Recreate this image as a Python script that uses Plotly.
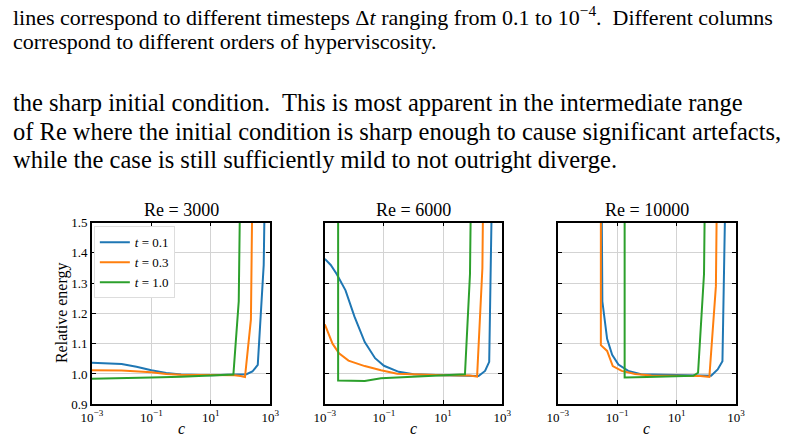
import plotly.graph_objects as go

# ---------------- data (log10 c, relative energy) ----------------
panels = ["Re = 3000", "Re = 6000", "Re = 10000"]
labels = ["0.1", "0.3", "1.0"]
colors = ["#1f77b4", "#ff7f0e", "#2ca02c"]

re3000_t01_logc = [-3, -2.5, -2, -1.5, -1, -0.5, 0, 1, 2, 2.2, 2.4, 2.58, 2.78, 2.95]
re3000_t01_E = [1.037, 1.036, 1.033, 1.024, 1.012, 1.003, 0.998, 0.996, 0.997, 0.999, 1.008, 1.03, 1.36, 2.5]
re3000_t03_logc = [-3, -2, -1, -0.5, 0, 1, 1.8, 2.0, 2.15, 2.35, 2.5]
re3000_t03_E = [1.012, 1.011, 1.006, 1.0, 0.997, 0.996, 0.996, 0.993, 0.990, 1.18, 2.5]
re3000_t10_logc = [-3, -2, -1, 0, 1, 1.76, 1.94, 2.1]
re3000_t10_E = [0.984, 0.985, 0.988, 0.991, 0.994, 0.998, 1.24, 2.5]

re6000_t01_logc = [-3, -2.8, -2.6, -2.3, -2, -1.65, -1.3, -1, -0.5, 0, 1, 2, 2.2, 2.42, 2.56, 2.8]
re6000_t01_E = [1.38, 1.36, 1.33, 1.276, 1.19, 1.105, 1.052, 1.027, 1.007, 0.999, 0.996, 0.995, 0.993, 1.01, 1.04, 2.5]
re6000_t03_logc = [-3, -2.74, -2.52, -2.2, -1.65, -1.1, -0.55, 0.2, 1, 1.9, 2.15, 2.33, 2.45]
re6000_t03_E = [1.164, 1.10, 1.068, 1.044, 1.026, 1.012, 1.001, 0.998, 0.996, 0.995, 0.991, 1.35, 2.5]
re6000_t10_logc = [-2.55, -2.55, -1.65, -1.1, 0.5, 1.5, 1.74, 1.91, 2.05]
re6000_t10_E = [3.0, 0.978, 0.977, 0.986, 0.993, 0.997, 0.999, 1.33, 2.5]

re10000_t01_logc = [-1.62, -1.5, -1.34, -1.17, -0.96, -0.63, -0.2, 1, 2.0, 2.16, 2.38, 2.54, 2.8]
re10000_t01_E = [3.0, 1.24, 1.116, 1.063, 1.031, 1.01, 0.999, 0.996, 0.994, 0.994, 1.015, 1.042, 2.5]
re10000_t03_logc = [-1.55, -1.55, -1.34, -1.15, -0.85, -0.4, 0.15, 1, 1.8, 2.1, 2.32, 2.45]
re10000_t03_E = [3.0, 1.095, 1.076, 1.026, 1.01, 1.0, 0.995, 0.994, 0.993, 0.990, 1.29, 2.5]
re10000_t10_logc = [-0.75, -0.75, 0, 1, 1.56, 1.72, 1.92, 2.05]
re10000_t10_E = [3.0, 0.988, 0.99, 0.992, 0.994, 1.004, 1.33, 2.5]

series = [
    [(re3000_t01_logc, re3000_t01_E), (re3000_t03_logc, re3000_t03_E), (re3000_t10_logc, re3000_t10_E)],
    [(re6000_t01_logc, re6000_t01_E), (re6000_t03_logc, re6000_t03_E), (re6000_t10_logc, re6000_t10_E)],
    [(re10000_t01_logc, re10000_t01_E), (re10000_t03_logc, re10000_t03_E), (re10000_t10_logc, re10000_t10_E)],
]

x_tickvals = [1e-3, 1e-1, 1e1, 1e3]
x_ticktext = ["10<sup>−3</sup>", "10<sup>−1</sup>", "10<sup>1</sup>", "10<sup>3</sup>"]
y_tickvals = [0.9, 1.0, 1.1, 1.2, 1.3, 1.4, 1.5]

caption_lines = [
    "lines correspond to different timesteps Δ<i>t</i> ranging from 0.1 to 10<sup>−4</sup>.  Different columns",
    "correspond to different orders of hyperviscosity.",
]
body_lines = [
    "the sharp initial condition.  This is most apparent in the intermediate range",
    "of Re where the initial condition is sharp enough to cause significant artefacts,",
    "while the case is still sufficiently mild to not outright diverge.",
]

# ---------------- layout ----------------
W, H = 788, 448
SERIF = "Liberation Serif"
px_x = [(83, 266), (322, 504), (561, 744)]
py_top, py_bot = 223, 411

fig = go.Figure()

for i in range(3):
    xa = "x" if i == 0 else f"x{i+1}"
    ya = "y" if i == 0 else f"y{i+1}"
    for j in range(3):
        lc, e = series[i][j]
        fig.add_trace(go.Scatter(
            x=[10 ** v for v in lc], y=e, mode="lines",
            line=dict(color=colors[j], width=2),
            name="<i>t</i> = " + labels[j],
            showlegend=(i == 0), xaxis=xa, yaxis=ya,
        ))

axis_common = dict(
    showline=True, linecolor="black", linewidth=1.5, mirror="allticks",
    ticks="inside", ticklen=4, tickcolor="black",
    showgrid=True, gridcolor="#d3d3d3", gridwidth=1, zeroline=False,
    tickfont=dict(family=SERIF, size=13, color="black"),
)

layout = dict(
    width=W, height=H, margin=dict(l=0, r=0, t=0, b=0),
    paper_bgcolor="white", plot_bgcolor="white",
    showlegend=True,
    legend=dict(
        x=85 / W, y=1 - 227 / H, xanchor="left", yanchor="top",
        bgcolor="white", bordercolor="#dddddd", borderwidth=1,
        font=dict(family=SERIF, size=13, color="black"),
        itemwidth=30, tracegroupgap=0,
    ),
)
for i in range(3):
    xk = "xaxis" if i == 0 else f"xaxis{i+1}"
    yk = "yaxis" if i == 0 else f"yaxis{i+1}"
    x0, x1 = px_x[i]
    layout[xk] = dict(
        axis_common, type="log", range=[-3, 3],
        domain=[x0 / W, x1 / W], anchor="y" if i == 0 else f"y{i+1}",
        tickvals=x_tickvals, ticktext=x_ticktext,
    )
    layout[yk] = dict(
        axis_common, range=[0.9, 1.5],
        domain=[1 - py_bot / H, 1 - py_top / H], anchor="x" if i == 0 else f"x{i+1}",
        tickvals=y_tickvals, tickformat=".1f", showticklabels=(i == 0),
    )
fig.update_layout(**layout)

ann = []
for i in range(3):
    x0, x1 = px_x[i]
    cx = (x0 + x1) / 2 / W
    ann.append(dict(text=panels[i], x=cx, y=1 - 210 / H, xref="paper", yref="paper",
                    showarrow=False, xanchor="center", yanchor="middle",
                    font=dict(family=SERIF, size=18, color="black")))
    ann.append(dict(text="<i>c</i>", x=cx, y=1 - 436 / H, xref="paper", yref="paper",
                    showarrow=False, xanchor="center", yanchor="middle",
                    font=dict(family=SERIF, size=16, color="black")))
ann.append(dict(text="Relative energy", x=53 / W, y=1 - 316 / H, xref="paper", yref="paper",
                showarrow=False, xanchor="center", yanchor="middle", textangle=-90,
                font=dict(family=SERIF, size=16, color="black")))

cap_y = [9, 36]
for k, t in enumerate(caption_lines):
    ann.append(dict(text=t, x=0, y=1 - cap_y[k] / H, xref="paper", yref="paper",
                    showarrow=False, xanchor="left", yanchor="middle",
                    font=dict(family=SERIF, size=22, color="black")))
body_y = [99, 129, 158]
for k, t in enumerate(body_lines):
    ann.append(dict(text=t, x=0, y=1 - body_y[k] / H, xref="paper", yref="paper",
                    showarrow=False, xanchor="left", yanchor="middle",
                    font=dict(family=SERIF, size=24.5, color="black")))

fig.update_layout(annotations=ann)
fig.write_html("out.html")
